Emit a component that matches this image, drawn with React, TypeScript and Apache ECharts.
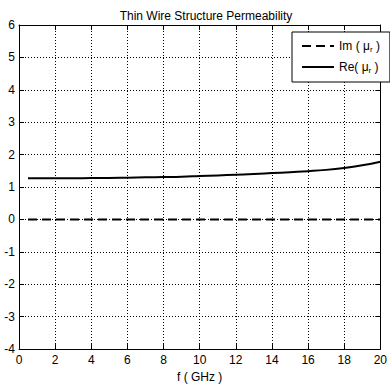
import React, { useEffect, useRef } from "react";
import * as echarts from "echarts";

// Frequency sweep (GHz) and relative permeability of the thin-wire structure
const freqGHz = [0.5, 1, 2, 3, 4, 5, 6, 7, 8, 9, 10, 11, 12, 13, 14, 15, 16, 17, 18, 19, 20];
const reMu = [1.27, 1.27, 1.27, 1.27, 1.28, 1.28, 1.29, 1.3, 1.31, 1.32, 1.34, 1.36, 1.38, 1.4, 1.43, 1.46, 1.49, 1.53, 1.59, 1.67, 1.78];
const imMu = [0, 0, 0, 0, 0, 0, 0, 0, 0, 0, 0, 0, 0, 0, 0, 0, 0, 0, 0, 0, 0];

const xTicks = { min: 0, max: 20, interval: 2 };
const yTicks = { min: -4, max: 6, interval: 1 };

const FONT = "'Liberation Sans Narrow', 'Liberation Sans', Arial, sans-serif";

export default function App() {
  const ref = useRef<HTMLDivElement>(null);

  useEffect(() => {
    document.body.style.margin = "0";
    const chart = echarts.init(ref.current!, null, { renderer: "svg" });

    const pairs = (ys: number[]) => freqGHz.map((f, i) => [f, ys[i]]);
    const frame = { show: true, onZero: false, lineStyle: { color: "#000", width: 1 } };
    const dotted = { show: true, lineStyle: { color: "#000", type: [1, 2], width: 1 } };
    const ticksIn = { show: true, inside: true, length: 5, lineStyle: { color: "#000" } };
    const label = { color: "#000", fontFamily: FONT, fontSize: 12 };

    chart.setOption({
      animation: false,
      backgroundColor: "#fff",
      title: {
        text: "Thin Wire Structure Permeability",
        left: 201,
        top: 5,
        textAlign: "center",
        textStyle: { color: "#000", fontFamily: FONT, fontSize: 12, fontWeight: "normal" },
      },
      grid: { left: 19, right: 7, top: 25, bottom: 34 },
      xAxis: [
        {
          type: "value",
          ...xTicks,
          name: "f ( GHz )",
          nameLocation: "middle",
          nameGap: 21,
          nameTextStyle: { color: "#000", fontFamily: FONT, fontSize: 12 },
          axisLine: frame,
          axisTick: ticksIn,
          axisLabel: { ...label, margin: 5 },
          splitLine: dotted,
        },
        {
          type: "value",
          ...xTicks,
          position: "top",
          axisLine: frame,
          axisTick: ticksIn,
          axisLabel: { show: false },
          splitLine: { show: false },
        },
      ],
      yAxis: [
        {
          type: "value",
          ...yTicks,
          axisLine: frame,
          axisTick: ticksIn,
          axisLabel: { ...label, margin: 4 },
          splitLine: dotted,
        },
        {
          type: "value",
          ...yTicks,
          position: "right",
          axisLine: frame,
          axisTick: ticksIn,
          axisLabel: { show: false },
          splitLine: { show: false },
        },
      ],
      legend: {
        orient: "vertical",
        left: 292,
        top: 32,
        padding: [8, 10, 8, 9],
        itemGap: 8,
        itemWidth: 32,
        itemHeight: 14,
        backgroundColor: "#fff",
        borderColor: "#000",
        borderWidth: 1,
        borderRadius: 0,
        itemStyle: { opacity: 0 },
        data: ["Im", "Re"],
        formatter: (name: string) =>
          name === "Im" ? "Im ( {mu|μ}{sub|r} )" : "Re( {mu|μ}{sub|r} )",
        textStyle: {
          color: "#000",
          fontFamily: FONT,
          fontSize: 12,
          rich: {
            mu: { color: "#000", fontFamily: FONT, fontSize: 12 },
            sub: { color: "#000", fontFamily: FONT, fontSize: 8, padding: [6, 0, 0, 0] },
          },
        },
      },
      series: [
        {
          name: "Im",
          type: "line",
          data: pairs(imMu),
          showSymbol: false,
          symbol: "none",
          lineStyle: { color: "#000", width: 2, type: [9, 5] },
          itemStyle: { color: "#000" },
          z: 3,
        },
        {
          name: "Re",
          type: "line",
          data: pairs(reMu),
          showSymbol: false,
          symbol: "none",
          smooth: true,
          lineStyle: { color: "#000", width: 2 },
          itemStyle: { color: "#000" },
          z: 3,
        },
      ],
    });

    return () => chart.dispose();
  }, []);

  return <div ref={ref} style={{ width: 390, height: 388 }} />;
}
